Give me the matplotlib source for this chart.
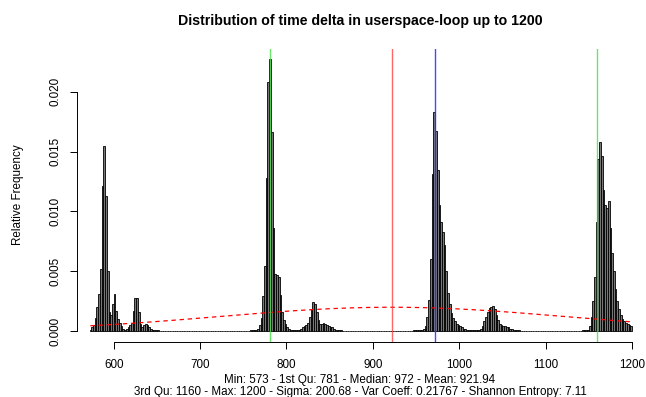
#!/usr/bin/env python3
# -*- coding: utf-8 -*-
"""
Histograma de time delta (userspace-loop) con cuartiles y normal ajustada.
"""

import numpy as np
import matplotlib
matplotlib.use('Agg')
import matplotlib.pyplot as plt

plt.rc('font', family='Liberation Sans')
plt.close('all')

# bins de ancho 2, centros 573, 575, ..., 1199
bin_start = 572
bin_width = 2
rel_freq = [
    # 573
    0.0001, 0.0003, 0.0005, 0.0011, 0.0020, 0.0031, 0.0052, 0.0121, 0.0155, 0.0113,
    # 593
    0.0050, 0.0016, 0.0013, 0.0023, 0.0031, 0.0017, 0.0010, 0.0007, 0.0004, 0.0002,
    # 613
    0.0001, 0.0002, 0.0003, 0.0005, 0.0007, 0.0017, 0.0028, 0.0028, 0.0016, 0.0006,
    # 633
    0.0003, 0.0005, 0.0006, 0.0005, 0.0003, 0.0002, 0.0001, 0.0001, 5e-05, 5e-05,
    # 653
    4e-05, 4e-05, 4e-05, 4e-05, 4e-05, 4e-05, 4e-05, 4e-05, 4e-05, 4e-05,
    # 673
    4e-05, 4e-05, 4e-05, 4e-05, 4e-05, 4e-05, 4e-05, 4e-05, 4e-05, 4e-05,
    # 693
    4e-05, 4e-05, 4e-05, 4e-05, 4e-05, 4e-05, 4e-05, 4e-05, 4e-05, 4e-05,
    # 713
    4e-05, 4e-05, 4e-05, 4e-05, 4e-05, 4e-05, 4e-05, 4e-05, 4e-05, 4e-05,
    # 733
    4e-05, 4e-05, 4e-05, 4e-05, 4e-05, 4e-05, 4e-05, 4e-05, 4e-05, 4e-05,
    # 753
    4e-05, 4e-05, 4e-05, 5e-05, 5e-05, 0.0001, 0.0001, 0.0002, 0.0005, 0.0011,
    # 773
    0.0029, 0.0054, 0.0128, 0.0208, 0.0227, 0.0166, 0.0086, 0.0048, 0.0047, 0.0045,
    # 793
    0.0030, 0.0016, 0.0009, 0.0006, 0.0003, 0.0002, 0.0001, 0.0001, 5e-05, 5e-05,
    # 813
    0.0001, 0.0001, 0.0002, 0.0003, 0.0004, 0.0005, 0.0007, 0.0012, 0.0018, 0.0024,
    # 833
    0.0023, 0.0016, 0.0009, 0.0006, 0.0006, 0.0007, 0.0006, 0.0005, 0.0004, 0.0003,
    # 853
    0.0003, 0.0002, 0.0001, 0.0001, 5e-05, 5e-05, 4e-05, 4e-05, 4e-05, 4e-05,
    # 873
    4e-05, 4e-05, 4e-05, 4e-05, 4e-05, 4e-05, 4e-05, 4e-05, 4e-05, 4e-05,
    # 893
    4e-05, 4e-05, 4e-05, 4e-05, 4e-05, 4e-05, 4e-05, 4e-05, 4e-05, 4e-05,
    # 913
    4e-05, 4e-05, 4e-05, 4e-05, 4e-05, 4e-05, 4e-05, 4e-05, 4e-05, 4e-05,
    # 933
    4e-05, 4e-05, 4e-05, 4e-05, 4e-05, 4e-05, 4e-05, 5e-05, 5e-05, 5e-05,
    # 953
    5e-05, 5e-05, 0.0001, 0.0002, 0.0004, 0.0012, 0.0026, 0.0060, 0.0131, 0.0183,
    # 973
    0.0167, 0.0135, 0.0105, 0.0091, 0.0083, 0.0072, 0.0050, 0.0032, 0.0023, 0.0015,
    # 993
    0.0011, 0.0008, 0.0006, 0.0005, 0.0004, 0.0003, 0.0002, 0.0002, 0.0001, 0.0001,
    # 1013
    5e-05, 5e-05, 5e-05, 0.0001, 0.0001, 0.0001, 0.0002, 0.0004, 0.0008, 0.0012,
    # 1033
    0.0016, 0.0019, 0.0020, 0.0021, 0.0018, 0.0013, 0.0009, 0.0006, 0.0005, 0.0004,
    # 1053
    0.0004, 0.0003, 0.0003, 0.0002, 0.0002, 0.0001, 0.0001, 5e-05, 5e-05, 4e-05,
    # 1073
    4e-05, 4e-05, 4e-05, 4e-05, 4e-05, 4e-05, 4e-05, 4e-05, 4e-05, 4e-05,
    # 1093
    4e-05, 4e-05, 4e-05, 4e-05, 4e-05, 4e-05, 4e-05, 4e-05, 4e-05, 4e-05,
    # 1113
    4e-05, 4e-05, 4e-05, 4e-05, 4e-05, 4e-05, 4e-05, 4e-05, 4e-05, 4e-05,
    # 1133
    4e-05, 4e-05, 4e-05, 4e-05, 4e-05, 5e-05, 5e-05, 0.0001, 0.0001, 0.0004,
    # 1153
    0.0012, 0.0025, 0.0045, 0.0091, 0.0144, 0.0158, 0.0146, 0.0118, 0.0105, 0.0103,
    # 1173
    0.0109, 0.0086, 0.0065, 0.0050, 0.0035, 0.0025, 0.0018, 0.0013, 0.0010, 0.0008,
    # 1193
    0.0007, 0.0006, 0.0005, 0.0004,
]

# estadisticos
v_min, q1, median, mean, q3, v_max = 573, 781, 972, 921.94, 1160, 1200
sigma = 200.68
var_coeff = 0.21767
entropy = 7.11

W, H = 646, 397
fig = plt.figure(figsize=(W/100, H/100), dpi=100)
# region del grafico en pixeles (estilo R)
left, right, top, bottom = 77, 643, 48.6, 341.9
ax = fig.add_axes([left/W, 1 - bottom/H, (right-left)/W, (bottom-top)/H])

centers = bin_start + bin_width/2 + bin_width*np.arange(len(rel_freq))
ax.bar(centers, rel_freq, width=bin_width, color='#777777',
       edgecolor='black', linewidth=0.6)

# normal ajustada
xs = np.linspace(v_min, v_max, 400)
dens = np.exp(-0.5*((xs - mean)/sigma)**2)/(sigma*np.sqrt(2*np.pi))
ax.plot(xs, dens, color='red', lw=0.9, ls=(0, (3.5, 3)))

ax.axvline(q1, color='#44e044', lw=1.0, alpha=0.8)
ax.axvline(q3, color='#44e044', lw=1.0, alpha=0.8)
ax.axvline(mean, color='#ff4040', lw=1.0, alpha=0.8)
ax.axvline(median, color='#3333ff', lw=1.0, alpha=0.9)

ax.set_xlim(557.5, 1212.7)
ax.set_ylim(-0.00091, 0.02361)

for s in ['top', 'right']:
    ax.spines[s].set_visible(False)
ax.spines['bottom'].set_bounds(600, 1200)
ax.spines['left'].set_bounds(0, 0.02)
ax.spines['bottom'].set_linewidth(0.7)
ax.spines['left'].set_linewidth(0.7)

ax.set_xticks(np.arange(600, 1201, 100))
ax.set_yticks([0, 0.005, 0.010, 0.015, 0.020])
ax.set_yticklabels(['0.000', '0.005', '0.010', '0.015', '0.020'],
                   rotation=90, va='center')
ax.tick_params(length=5, width=0.7, labelsize=8.4)
ax.tick_params(axis='x', pad=7)
ax.tick_params(axis='y', pad=6)

fig.text(360/W, 1 - 21/H, 'Distribution of time delta in userspace-loop up to 1200',
         ha='center', va='center', fontsize=10.2, fontweight='bold')
fig.text(18/W, 1 - 195/H, 'Relative Frequency', rotation=90,
         ha='center', va='center', fontsize=8.4)
fig.text(360/W, 1 - 380/H,
         'Min: %d - 1st Qu: %d - Median: %d - Mean: %.2f' % (v_min, q1, median, mean),
         ha='center', va='center', fontsize=8.4)
fig.text(360/W, 1 - 392.5/H,
         '3rd Qu: %d - Max: %d - Sigma: %.2f - Var Coeff: %.5f - Shannon Entropy: %.2f'
         % (q3, v_max, sigma, var_coeff, entropy),
         ha='center', va='center', fontsize=8.4)

plt.savefig('out.png', dpi=100)
